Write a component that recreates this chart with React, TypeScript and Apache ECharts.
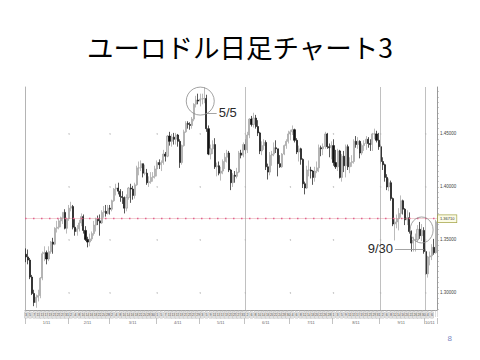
import React, { useEffect, useRef } from "react";
import * as echarts from "echarts";

// EUR/USD daily candles, 2011. Each row: [day, open, close, low, high]
type Row = [number, number, number, number, number];

const JAN: Row[] = [
  [3, 1.3365, 1.334, 1.329, 1.342],
  [4, 1.334, 1.331, 1.327, 1.341],
  [5, 1.331, 1.315, 1.313, 1.333],
  [6, 1.315, 1.2995, 1.298, 1.317],
  [7, 1.2995, 1.291, 1.2875, 1.303],
  [10, 1.291, 1.296, 1.286, 1.2985],
  [11, 1.296, 1.2975, 1.292, 1.303],
  [12, 1.2975, 1.314, 1.295, 1.315],
  [13, 1.314, 1.337, 1.312, 1.339],
  [14, 1.337, 1.338, 1.33, 1.344],
  [17, 1.338, 1.332, 1.327, 1.34],
  [18, 1.332, 1.339, 1.33, 1.344],
  [19, 1.339, 1.348, 1.337, 1.349],
  [20, 1.348, 1.346, 1.337, 1.352],
  [21, 1.346, 1.361, 1.345, 1.362],
  [24, 1.361, 1.362, 1.357, 1.368],
  [25, 1.362, 1.368, 1.36, 1.37],
  [26, 1.368, 1.371, 1.362, 1.372],
  [27, 1.371, 1.376, 1.365, 1.376],
  [28, 1.376, 1.361, 1.36, 1.379],
  [31, 1.361, 1.37, 1.356, 1.371],
];

const FEB: Row[] = [
  [1, 1.37, 1.38, 1.368, 1.383],
  [2, 1.38, 1.3815, 1.377, 1.386],
  [3, 1.3815, 1.362, 1.36, 1.383],
  [4, 1.362, 1.358, 1.354, 1.37],
  [7, 1.358, 1.3605, 1.354, 1.364],
  [8, 1.3605, 1.366, 1.358, 1.369],
  [9, 1.366, 1.372, 1.363, 1.375],
  [10, 1.372, 1.359, 1.356, 1.374],
  [11, 1.359, 1.3505, 1.349, 1.363],
  [14, 1.3505, 1.348, 1.343, 1.353],
  [15, 1.348, 1.351, 1.344, 1.356],
  [16, 1.351, 1.356, 1.349, 1.358],
  [17, 1.356, 1.364, 1.354, 1.368],
  [18, 1.364, 1.37, 1.358, 1.371],
  [21, 1.37, 1.368, 1.364, 1.373],
  [22, 1.368, 1.366, 1.354, 1.374],
  [23, 1.366, 1.376, 1.365, 1.378],
  [24, 1.376, 1.377, 1.371, 1.382],
  [25, 1.377, 1.375, 1.372, 1.383],
  [28, 1.375, 1.38, 1.374, 1.383],
];

const MAR: Row[] = [
  [1, 1.38, 1.379, 1.374, 1.383],
  [2, 1.379, 1.387, 1.377, 1.388],
  [3, 1.387, 1.398, 1.386, 1.399],
  [4, 1.398, 1.399, 1.392, 1.403],
  [7, 1.399, 1.396, 1.393, 1.404],
  [8, 1.396, 1.391, 1.386, 1.398],
  [9, 1.391, 1.39, 1.384, 1.396],
  [10, 1.39, 1.38, 1.375, 1.391],
  [11, 1.38, 1.39, 1.377, 1.393],
  [14, 1.39, 1.399, 1.388, 1.4],
  [15, 1.399, 1.398, 1.385, 1.403],
  [16, 1.398, 1.392, 1.388, 1.401],
  [17, 1.392, 1.402, 1.389, 1.404],
  [18, 1.402, 1.418, 1.401, 1.42],
  [21, 1.418, 1.418, 1.411, 1.424],
  [22, 1.418, 1.422, 1.415, 1.425],
  [23, 1.422, 1.413, 1.409, 1.422],
  [24, 1.413, 1.413, 1.411, 1.421],
  [25, 1.413, 1.404, 1.402, 1.417],
  [28, 1.404, 1.405, 1.4, 1.41],
  [29, 1.405, 1.409, 1.403, 1.414],
  [30, 1.409, 1.41, 1.405, 1.414],
  [31, 1.41, 1.417, 1.408, 1.42],
];

const APR: Row[] = [
  [1, 1.417, 1.423, 1.41, 1.425],
  [4, 1.423, 1.421, 1.417, 1.426],
  [5, 1.421, 1.423, 1.415, 1.425],
  [6, 1.423, 1.431, 1.421, 1.435],
  [7, 1.431, 1.429, 1.424, 1.433],
  [8, 1.429, 1.448, 1.428, 1.449],
  [11, 1.448, 1.443, 1.439, 1.452],
  [12, 1.443, 1.447, 1.438, 1.45],
  [13, 1.447, 1.445, 1.44, 1.451],
  [14, 1.445, 1.449, 1.44, 1.451],
  [15, 1.449, 1.443, 1.438, 1.45],
  [18, 1.443, 1.423, 1.418, 1.445],
  [19, 1.423, 1.439, 1.421, 1.44],
  [20, 1.439, 1.452, 1.438, 1.454],
  [21, 1.452, 1.46, 1.451, 1.462],
  [22, 1.46, 1.459, 1.455, 1.462],
  [25, 1.459, 1.458, 1.454, 1.461],
  [26, 1.458, 1.464, 1.455, 1.466],
  [27, 1.464, 1.478, 1.462, 1.479],
  [28, 1.478, 1.482, 1.475, 1.486],
  [29, 1.482, 1.481, 1.478, 1.488],
];

const MAY: Row[] = [
  [2, 1.481, 1.483, 1.476, 1.488],
  [3, 1.483, 1.483, 1.478, 1.488],
  [4, 1.483, 1.4835, 1.479, 1.494],
  [5, 1.4835, 1.455, 1.452, 1.487],
  [6, 1.455, 1.431, 1.43, 1.458],
  [9, 1.431, 1.436, 1.426, 1.44],
  [10, 1.436, 1.44, 1.431, 1.444],
  [11, 1.44, 1.419, 1.417, 1.446],
  [12, 1.419, 1.42, 1.41, 1.423],
  [13, 1.42, 1.413, 1.411, 1.424],
  [16, 1.413, 1.415, 1.406, 1.419],
  [17, 1.415, 1.424, 1.412, 1.426],
  [18, 1.424, 1.428, 1.417, 1.432],
  [19, 1.428, 1.432, 1.423, 1.435],
  [20, 1.432, 1.416, 1.414, 1.434],
  [23, 1.416, 1.404, 1.397, 1.417],
  [24, 1.404, 1.411, 1.4, 1.413],
  [25, 1.411, 1.41, 1.404, 1.415],
  [26, 1.41, 1.414, 1.408, 1.418],
  [27, 1.414, 1.432, 1.413, 1.434],
  [30, 1.432, 1.43, 1.427, 1.435],
  [31, 1.43, 1.44, 1.428, 1.442],
];

const JUN: Row[] = [
  [1, 1.44, 1.435, 1.431, 1.445],
  [2, 1.435, 1.449, 1.432, 1.452],
  [3, 1.449, 1.464, 1.446, 1.465],
  [6, 1.464, 1.459, 1.457, 1.467],
  [7, 1.459, 1.465, 1.456, 1.47],
  [8, 1.465, 1.457, 1.455, 1.468],
  [9, 1.457, 1.451, 1.448, 1.463],
  [10, 1.451, 1.434, 1.431, 1.452],
  [13, 1.434, 1.439, 1.43, 1.443],
  [14, 1.439, 1.442, 1.435, 1.445],
  [15, 1.442, 1.419, 1.416, 1.444],
  [16, 1.419, 1.414, 1.407, 1.422],
  [17, 1.414, 1.43, 1.411, 1.433],
  [20, 1.43, 1.431, 1.42, 1.434],
  [21, 1.431, 1.437, 1.429, 1.442],
  [22, 1.437, 1.436, 1.432, 1.444],
  [23, 1.436, 1.422, 1.41, 1.436],
  [24, 1.422, 1.419, 1.418, 1.43],
  [27, 1.419, 1.431, 1.418, 1.432],
  [28, 1.431, 1.439, 1.43, 1.44],
  [29, 1.439, 1.443, 1.436, 1.445],
  [30, 1.443, 1.45, 1.441, 1.453],
];

const JUL: Row[] = [
  [1, 1.45, 1.452, 1.444, 1.454],
  [4, 1.452, 1.454, 1.449, 1.458],
  [5, 1.454, 1.444, 1.442, 1.455],
  [6, 1.444, 1.433, 1.431, 1.446],
  [7, 1.433, 1.436, 1.424, 1.439],
  [8, 1.436, 1.426, 1.421, 1.437],
  [11, 1.426, 1.403, 1.399, 1.427],
  [12, 1.403, 1.399, 1.393, 1.405],
  [13, 1.399, 1.416, 1.398, 1.42],
  [14, 1.416, 1.416, 1.41, 1.425],
  [15, 1.416, 1.415, 1.408, 1.419],
  [18, 1.415, 1.409, 1.402, 1.416],
  [19, 1.409, 1.415, 1.405, 1.419],
  [20, 1.415, 1.418, 1.413, 1.424],
  [21, 1.418, 1.437, 1.414, 1.44],
  [22, 1.437, 1.436, 1.429, 1.439],
  [25, 1.436, 1.438, 1.43, 1.441],
  [26, 1.438, 1.45, 1.436, 1.452],
  [27, 1.45, 1.438, 1.436, 1.451],
  [28, 1.438, 1.437, 1.428, 1.441],
  [29, 1.437, 1.439, 1.426, 1.443],
];

const AUG: Row[] = [
  [1, 1.439, 1.423, 1.42, 1.445],
  [2, 1.423, 1.419, 1.417, 1.435],
  [3, 1.419, 1.434, 1.415, 1.436],
  [4, 1.434, 1.409, 1.408, 1.435],
  [5, 1.409, 1.429, 1.405, 1.431],
  [8, 1.429, 1.42, 1.414, 1.434],
  [9, 1.42, 1.438, 1.409, 1.44],
  [10, 1.438, 1.419, 1.416, 1.44],
  [11, 1.419, 1.423, 1.413, 1.428],
  [12, 1.423, 1.424, 1.419, 1.43],
  [15, 1.424, 1.443, 1.422, 1.445],
  [16, 1.443, 1.44, 1.437, 1.448],
  [17, 1.44, 1.443, 1.436, 1.447],
  [18, 1.443, 1.432, 1.427, 1.444],
  [19, 1.432, 1.439, 1.43, 1.441],
  [22, 1.439, 1.441, 1.434, 1.444],
  [23, 1.441, 1.445, 1.435, 1.448],
  [24, 1.445, 1.441, 1.437, 1.447],
  [25, 1.441, 1.44, 1.434, 1.445],
  [26, 1.44, 1.45, 1.434, 1.451],
  [29, 1.45, 1.45, 1.445, 1.455],
  [30, 1.45, 1.444, 1.442, 1.453],
  [31, 1.444, 1.438, 1.435, 1.451],
];

const SEP: Row[] = [
  [1, 1.438, 1.424, 1.422, 1.44],
  [2, 1.424, 1.421, 1.416, 1.428],
  [5, 1.421, 1.409, 1.405, 1.422],
  [6, 1.409, 1.4, 1.397, 1.412],
  [7, 1.4, 1.404, 1.396, 1.408],
  [8, 1.404, 1.389, 1.387, 1.406],
  [9, 1.389, 1.365, 1.363, 1.39],
  [12, 1.365, 1.367, 1.3495, 1.37],
  [13, 1.367, 1.37, 1.361, 1.374],
  [14, 1.37, 1.375, 1.359, 1.38],
  [15, 1.375, 1.387, 1.371, 1.392],
  [16, 1.387, 1.379, 1.374, 1.388],
  [19, 1.379, 1.369, 1.364, 1.38],
  [20, 1.369, 1.371, 1.364, 1.378],
  [21, 1.371, 1.358, 1.356, 1.376],
  [22, 1.358, 1.347, 1.339, 1.359],
  [23, 1.347, 1.35, 1.339, 1.353],
  [26, 1.35, 1.35, 1.339, 1.356],
  [27, 1.35, 1.36, 1.348, 1.364],
  [28, 1.36, 1.354, 1.351, 1.367],
  [29, 1.354, 1.359, 1.349, 1.365],
  [30, 1.359, 1.339, 1.337, 1.362],
];

const OCT: Row[] = [
  [3, 1.339, 1.318, 1.317, 1.341],
  [4, 1.318, 1.334, 1.3145, 1.335],
  [5, 1.334, 1.335, 1.326, 1.339],
  [6, 1.335, 1.343, 1.331, 1.346],
  [7, 1.343, 1.338, 1.336, 1.351],
  [10, 1.338, 1.3671, 1.337, 1.369],
];

const MONTHS: { num: number; label: string; rows: Row[] }[] = [
  { num: 1, label: "1/11", rows: JAN },
  { num: 2, label: "2/11", rows: FEB },
  { num: 3, label: "3/11", rows: MAR },
  { num: 4, label: "4/11", rows: APR },
  { num: 5, label: "5/11", rows: MAY },
  { num: 6, label: "6/11", rows: JUN },
  { num: 7, label: "7/11", rows: JUL },
  { num: 8, label: "8/11", rows: AUG },
  { num: 9, label: "9/11", rows: SEP },
  { num: 10, label: "10/11", rows: OCT },
];

const TITLE = "ユーロドル日足チャート3";
const PAGE_NO = "8";
const PRICE_TICKS = [1.3, 1.35, 1.4, 1.45];
const Y_MIN = 1.2839;
const Y_MAX = 1.4943;

// Session boundaries drawn as solid guides
const GUIDE_DAYS = ["6/1", "9/1", "10/3"];

// Circled highs/lows with their callouts
const CIRCLES: { at: [string, number]; size: number | number[] }[] = [
  { at: ["5/2", 1.481], size: 28 },
  { at: ["9/29", 1.3594], size: [23, 26] },
];
const CALLOUTS: { from: string; to: string; price: number; text: string }[] = [
  { from: "5/5", to: "5/12", price: 1.47, text: "5/5" },
  { from: "9/30", to: "9/12", price: 1.3415, text: "9/30" },
];

function buildOption() {
  const categories: string[] = [];
  const candles: number[][] = [];
  const monthStart = new Map<number, string>();
  const monthMid = new Map<number, string>();
  MONTHS.forEach((m) => {
    const startIdx = categories.length;
    monthStart.set(startIdx, m.label);
    monthMid.set(startIdx + Math.floor((m.rows.length - 1) / 2), m.label);
    m.rows.forEach((r) => {
      categories.push(`${m.num}/${r[0]}`);
      candles.push([r[1], r[2], r[3], r[4]]);
    });
  });
  const lastClose = candles[candles.length - 1][1];

  const minorTicks: number[] = [];
  for (let k = 257; k <= 298; k++) minorTicks.push(+(k * 0.005).toFixed(3));

  const gridDots: [string, number][] = [];
  monthStart.forEach((_, idx) => {
    if (idx === 0) return;
    PRICE_TICKS.forEach((p) => gridDots.push([categories[idx], p]));
  });

  const noteFont = { fontFamily: "Liberation Sans, Arial, sans-serif", fontSize: 13 };

  return {
    animation: false,
    backgroundColor: "#ffffff",
    title: {
      text: TITLE,
      left: "center",
      top: 28,
      textStyle: {
        fontFamily: "Noto Sans CJK JP",
        fontSize: 26.5,
        fontWeight: "normal",
        color: "#000000",
      },
    },
    graphic: [
      {
        type: "text",
        right: 28,
        top: 334,
        style: { text: PAGE_NO, fontSize: 8, fill: "#7b87c4", fontFamily: "Liberation Sans, Arial" },
      },
    ],
    grid: { left: 25, right: 43, top: 87, bottom: 50 },
    xAxis: [
      {
        type: "category",
        data: categories,
        boundaryGap: true,
        axisLine: { show: true, lineStyle: { color: "#a0a0a0", width: 1 } },
        axisTick: { show: true, interval: 1, length: 7, lineStyle: { color: "#bdbdbd", width: 0.5 } },
        axisLabel: {
          interval: 1,
          fontSize: 3.6,
          color: "#555",
          margin: 2,
          backgroundColor: "#e0e0e0",
          borderColor: "#b8b8b8",
          borderWidth: 0.4,
          padding: [1, 0.5],
          formatter: (v: string) => v.split("/")[1],
        },
        splitLine: { show: false },
      },
      {
        type: "category",
        data: categories,
        position: "bottom",
        offset: 8,
        axisLine: { show: false },
        axisTick: {
          show: true,
          interval: (i: number) => monthStart.has(i),
          length: 6,
          lineStyle: { color: "#9a9a9a", width: 0.6 },
        },
        axisLabel: {
          interval: (i: number) => monthMid.has(i),
          formatter: (_v: string, i: number) => monthMid.get(i) ?? "",
          fontSize: 4,
          color: "#666",
          margin: 2,
        },
        splitLine: { show: false },
      },
    ],
    yAxis: [
      {
        type: "value",
        position: "right",
        min: Y_MIN,
        max: Y_MAX,
        axisLine: { show: true, lineStyle: { color: "#9a9a9a", width: 1 } },
        axisTick: {
          show: true,
          customValues: minorTicks,
          length: 2,
          lineStyle: { color: "#999", width: 0.5 },
        },
        axisLabel: {
          customValues: PRICE_TICKS,
          formatter: (v: number) => v.toFixed(5),
          fontSize: 4.5,
          color: "#444",
          margin: 3,
        },
        splitLine: { show: false },
      },
      {
        type: "value",
        position: "left",
        min: Y_MIN,
        max: Y_MAX,
        axisLine: { show: true, lineStyle: { color: "#b4b4b4", width: 1 } },
        axisTick: { show: false },
        axisLabel: { show: false },
        splitLine: { show: false },
      },
    ],
    series: [
      {
        type: "scatter",
        data: gridDots,
        symbolSize: 1.4,
        itemStyle: { color: "#a8a8a8" },
        silent: true,
        z: 1,
      },
      {
        type: "candlestick",
        data: candles,
        barWidth: 1.6,
        z: 3,
        itemStyle: {
          color: "#d2d2d2",
          borderColor: "#9e9e9e",
          color0: "#111111",
          borderColor0: "#111111",
          borderWidth: 0.7,
        },
        markPoint: {
          silent: true,
          data: CIRCLES.map((c) => ({
            coord: c.at,
            symbol: "circle",
            symbolSize: c.size,
            itemStyle: { color: "rgba(0,0,0,0)", borderColor: "#8a8a8a", borderWidth: 0.8 },
            label: { show: false },
          })),
        },
        markLine: {
          silent: true,
          symbol: "none",
          data: [
            ...GUIDE_DAYS.map((d) => ({
              xAxis: d,
              lineStyle: { color: "#b0b0b0", width: 0.8, type: "solid" },
              label: { show: false },
            })),
            {
              yAxis: lastClose,
              lineStyle: { color: "rgba(215,110,120,0.55)", width: 0.6, type: "solid" },
              label: { show: false },
            },
            {
              yAxis: lastClose,
              lineStyle: { color: "#e2608e", width: 1.3, type: [1.5, 6.5] },
              label: {
                show: true,
                position: "end",
                distance: 1,
                formatter: () => lastClose.toFixed(5),
                fontSize: 4,
                color: "#333",
                backgroundColor: "#fbfbe6",
                borderColor: "#a6a64a",
                borderWidth: 0.7,
                padding: [1.5, 2],
              },
            },
            ...CALLOUTS.map((c) => [
              {
                coord: [c.from, c.price],
                lineStyle: { color: "#9a9a9a", width: 0.9, type: "solid" },
                label: {
                  show: true,
                  position: "end",
                  distance: 2,
                  formatter: c.text,
                  color: "#2a2a2a",
                  ...noteFont,
                },
              },
              { coord: [c.to, c.price] },
            ]),
          ],
        },
      },
    ],
  };
}

export default function App() {
  const ref = useRef<HTMLDivElement>(null);
  useEffect(() => {
    if (!ref.current) return;
    const chart = echarts.init(ref.current, undefined, { renderer: "svg" });
    chart.setOption(buildOption() as any);
    return () => chart.dispose();
  }, []);
  return (
    <div
      ref={ref}
      style={{ position: "fixed", left: 0, top: 0, width: 480, height: 360, background: "#fff" }}
    />
  );
}
